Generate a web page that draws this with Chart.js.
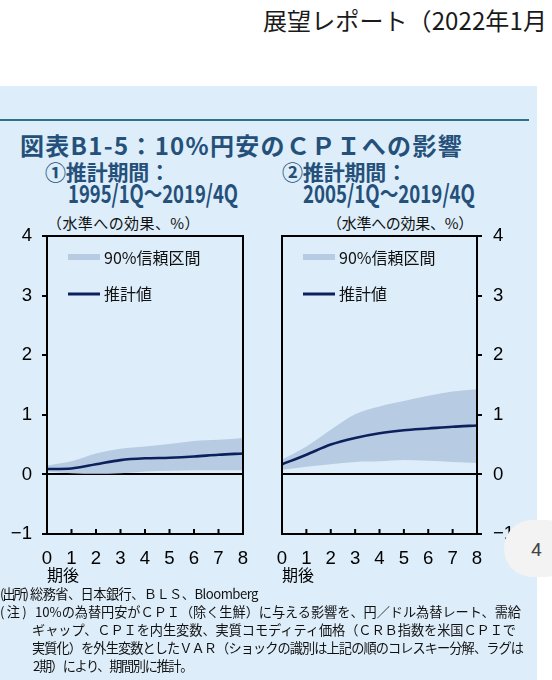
<!DOCTYPE html>
<html><head><meta charset="utf-8">
<script src="https://cdn.jsdelivr.net/npm/chart.js@4.4.1/dist/chart.umd.min.js"></script>
<style>
html,body{margin:0;padding:0;background:#fff;}
#page{position:relative;width:552px;height:680px;overflow:hidden;background:#fff;font-family:'Noto Sans CJK JP','Noto Sans',sans-serif;}
.t{position:absolute;white-space:nowrap;line-height:1;transform-origin:0 50%;}
#panel{position:absolute;left:0;top:86px;width:537px;height:594px;background:#ddedf9;}
#rule{position:absolute;left:0;top:119px;width:529px;height:2px;background:#2e6f8e;}
.blue{color:#24507a;font-weight:bold;}
.note{font-size:13.2px;color:#111;}
canvas{position:absolute;}
#bubble{position:absolute;left:504px;top:520px;width:70px;height:57px;background:#f3f3f3;border-radius:28px;}
</style></head>
<body>
<div id="page">
  <div class="t fit" data-w="284" style="left:263px;top:8px;font-size:24px;color:#1a1a1a;">展望レポート（2022年1月</div>
  <div id="panel"></div>
  <div id="rule"></div>
  <div class="t blue fit" data-w="443" style="left:20px;top:133px;font-size:24px;">図表B1-5：10%円安のＣＰＩへの影響</div>
  <div class="t blue fit" data-w="125" style="left:45px;top:161px;font-size:21px;">①推計期間：</div>
  <div class="t blue fit" data-w="170" data-mode="scale" style="left:68px;top:180px;font-size:25px;">1995/1Q～2019/4Q</div>
  <div class="t fit" data-w="153" style="left:47px;top:215px;font-size:15px;color:#111;">（水準への効果、%）</div>
  <div class="t blue fit" data-w="125" style="left:282px;top:161px;font-size:21px;">②推計期間：</div>
  <div class="t blue fit" data-w="172" data-mode="scale" style="left:303px;top:180px;font-size:25px;">2005/1Q～2019/4Q</div>
  <div class="t fit" data-w="146" style="left:327px;top:215px;font-size:15px;color:#111;">（水準への効果、%）</div>

  <canvas id="c1" width="262" height="359" style="left:0;top:226px;width:262px;height:359px;"></canvas>
  <canvas id="c2" width="290" height="359" style="left:262px;top:226px;width:290px;height:359px;"></canvas>

  <div class="t note fit" data-w="27" style="left:0;top:587px;">(出所)</div>
  <div class="t note fit" data-w="228" style="left:30px;top:587px;">総務省、日本銀行、ＢＬＳ、Bloomberg</div>
  <div class="t note fit" data-w="29" style="left:0;top:605px;">(注)</div>
  <div class="t note fit" data-w="486" style="left:35px;top:605px;">10%の為替円安がＣＰＩ（除く生鮮）に与える影響を、円／ドル為替レート、需給</div>
  <div class="t note fit" data-w="484" style="left:32px;top:623px;">ギャップ、ＣＰＩを内生変数、実質コモディティ価格（ＣＲＢ指数を米国ＣＰＩで</div>
  <div class="t note fit" data-w="491" style="left:32px;top:641px;">実質化）を外生変数としたＶＡＲ（ショックの識別は上記の順のコレスキー分解、ラグは</div>
  <div class="t note fit" data-w="159" style="left:33px;top:659px;">2期）により、期間別に推計。</div>

  <div id="bubble"></div>
  <div class="t" style="left:531px;top:540px;font-size:19px;color:#444;font-family:Roboto,sans-serif;">4</div>
</div>
<script>
// ---- data ----
const periods = ['0','1','2','3','4','5','6','7','8'];
const yTicks = [-1, 0, 1, 2, 3, 4];
const est1995   = [0.09, 0.10, 0.17, 0.24, 0.27, 0.28, 0.30, 0.33, 0.35];
const upper1995 = [0.15, 0.22, 0.35, 0.43, 0.47, 0.51, 0.56, 0.58, 0.61];
const lower1995 = [0.05, 0.02, 0.01, 0.02, 0.05, 0.06, 0.07, 0.07, 0.07];
const est2005   = [0.17, 0.33, 0.50, 0.61, 0.69, 0.74, 0.77, 0.80, 0.82];
const upper2005 = [0.25, 0.47, 0.75, 1.01, 1.14, 1.23, 1.32, 1.39, 1.43];
const lower2005 = [0.08, 0.13, 0.17, 0.21, 0.22, 0.24, 0.23, 0.21, 0.19];
const bandLabel = '90%信頼区間';
const lineLabel = '推計値';
const xTitle = '期後';

const BAND = '#b7cbe3', LINE = '#0c205c';
const TICKFONT = {family:"'Liberation Sans Narrow','Liberation Sans',Arial,sans-serif", size:18.6};

const framePlugin = {
  id:'frame',
  afterDatasetsDraw(chart){
    const {ctx, chartArea:a} = chart;
    const x = chart.scales.x;
    ctx.save();
    ctx.strokeStyle = '#000'; ctx.lineWidth = 2;
    ctx.strokeRect(a.left, a.top, a.right - a.left, a.bottom - a.top);
    ctx.beginPath();
    x.ticks.forEach((t, i) => {
      const px = x.getPixelForTick(i);
      ctx.moveTo(px, a.bottom); ctx.lineTo(px, a.bottom - 5);
    });
    ctx.stroke();
    // legend inside plot
    const lx = a.left + 21;
    ctx.fillStyle = BAND;
    ctx.fillRect(lx, a.top + 18, 32, 6);
    ctx.strokeStyle = LINE; ctx.lineWidth = 3;
    ctx.beginPath(); ctx.moveTo(lx, a.top + 58); ctx.lineTo(lx + 32, a.top + 58); ctx.stroke();
    ctx.fillStyle = '#111';
    ctx.font = "16px 'Noto Sans CJK JP', sans-serif";
    ctx.textBaseline = 'middle';
    ctx.fillText(bandLabel, lx + 36, a.top + 22);
    ctx.fillText(lineLabel, lx + 36, a.top + 58);
    ctx.restore();
  }
};

function makeChart(id, est, upper, lower, side){
  const yAxis = {
    type:'linear', position: side, min: yTicks[0], max: yTicks[yTicks.length-1],
    afterBuildTicks: s => { s.ticks = yTicks.map(v => ({value:v})); },
    ticks:{ font: TICKFONT, color:'#000', padding: side === 'left' ? 10 : 11,
      callback: v => v < 0 ? '−' + Math.abs(v) : String(v) },
    grid:{ drawOnChartArea:true, lineWidth:2, tickLength:5, tickColor:'#000',
      color: c => (c.tick && c.tick.value === 0) ? '#000' : 'rgba(0,0,0,0)' },
    border:{ display:true, color:'#000', width:2 },
    afterFit: s => { s.width = side === 'left' ? 47 : 75; s.paddingTop = 0; s.paddingBottom = 0; }
  };
  return new Chart(document.getElementById(id), {
    type:'line',
    data:{
      labels: periods,
      datasets:[
        { label: lineLabel, data: est, borderColor: LINE, borderWidth: 2.6, pointRadius: 0, fill: false, cubicInterpolationMode:'monotone' },
        { label: bandLabel, data: upper, borderWidth: 0, borderColor: 'rgba(0,0,0,0)', backgroundColor: BAND, pointRadius: 0, fill: '+1', cubicInterpolationMode:'monotone' },
        { label: bandLabel + '下限', data: lower, borderWidth: 0, borderColor: 'rgba(0,0,0,0)', pointRadius: 0, fill: false, cubicInterpolationMode:'monotone' }
      ]
    },
    options:{
      responsive:false, animation:false,
      layout:{ padding: side === 'left' ? {top:10, right:19, left:0, bottom:0} : {top:10, left:20, right:0, bottom:0} },
      plugins:{ legend:{display:false}, tooltip:{enabled:false} },
      scales:{
        x:{ type:'category', offset:false,
          grid:{ display:false, drawTicks:false }, border:{ display:false },
          ticks:{ font: TICKFONT, color:'#000', padding:14, maxRotation:0, autoSkip:false },
          title:{ display:true, text: xTitle, align:'start', color:'#000', font:{family:"'Noto Sans CJK JP',sans-serif", size:16}, padding:{top:0, bottom:0} },
          afterFit: s => { s.height = 51; s.paddingLeft = 0; s.paddingRight = 0; }
        },
        y: yAxis
      }
    },
    plugins:[framePlugin]
  });
}

makeChart('c1', est1995, upper1995, lower1995, 'left');
makeChart('c2', est2005, upper2005, lower2005, 'right');

function fitAll(){
  document.querySelectorAll('.fit').forEach(el => {
    const target = parseFloat(el.dataset.w);
    el.style.letterSpacing = '0px'; el.style.transform = 'none';
    const w = el.getBoundingClientRect().width;
    if (el.dataset.mode === 'scale') {
      el.style.transform = 'scaleX(' + (target / w) + ')';
    } else {
      const n = [...el.textContent].length;
      el.style.letterSpacing = ((target - w) / n) + 'px';
    }
  });
}
fitAll();
if (document.fonts && document.fonts.ready) document.fonts.ready.then(fitAll);
</script>
</body></html>
